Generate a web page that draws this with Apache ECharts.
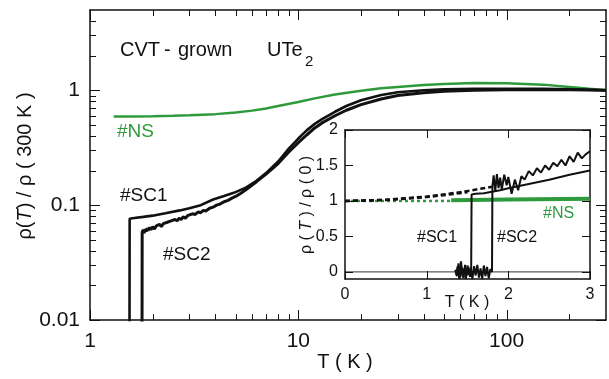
<!DOCTYPE html>
<html><head><meta charset="utf-8">
<script src="https://cdn.jsdelivr.net/npm/echarts@6/dist/echarts.min.js"></script>
<style>html,body{margin:0;padding:0;background:#fff}#c{width:609px;height:379px}</style>
</head><body><div id="c"></div>
<script>
const FONT = 'Liberation Sans, Arial, Helvetica, sans-serif';
const INK = '#111';
const GREEN = '#2e9a3c';

// ---------- main panel: T (K) vs rho(T)/rho(300 K) ----------
const mainNS = [[1.3,0.59],[1.6,0.592],[2,0.595],[2.5,0.6],[3,0.605],[4,0.62],[5,0.64],[6,0.665],[7,0.695],[8,0.73],[10,0.79],[12,0.85],[15,0.92],[20,0.99],[25,1.04],[30,1.07],[40,1.11],[50,1.135],[70,1.155],[100,1.15],[150,1.12],[200,1.07],[250,1.03],[300,1.0]];
const mainSC1 = [[1.545,0.001],[1.55,0.076],[1.6,0.077],[1.8,0.079],[2,0.081],[2.3,0.085],[2.7,0.09],[3,0.094],[3.4,0.1],[3.9,0.112],[4.4,0.12],[4.9,0.128],[5.6,0.142],[6.3,0.163],[7,0.19],[8,0.24],[9,0.31],[10,0.38],[11,0.45],[12,0.51],[13,0.56],[15,0.65],[17,0.73],[20,0.82],[25,0.91],[30,0.96],[40,1.0],[50,1.02],[70,1.03],[100,1.03],[150,1.03],[200,1.02],[300,1.0]];
const mainSC2 = [[1.775,0.001],[1.78,0.058],[1.8,0.061],[1.82,0.057],[1.84,0.062],[1.86,0.059],[1.88,0.063],[1.9,0.06],[1.93,0.064],[1.96,0.061],[2.0,0.065],[2.04,0.062],[2.08,0.066],[2.12,0.064],[2.16,0.068],[2.2,0.065],[2.25,0.069],[2.3,0.067],[2.35,0.071],[2.4,0.069],[2.45,0.073],[2.5,0.071],[2.56,0.075],[2.62,0.073],[2.68,0.077],[2.74,0.075],[2.8,0.079],[2.87,0.077],[2.94,0.081],[3.0,0.08],[3.1,0.084],[3.2,0.083],[3.3,0.087],[3.4,0.086],[3.5,0.09],[3.6,0.089],[3.75,0.094],[3.9,0.096],[4.05,0.1],[4.2,0.102],[4.4,0.107],[4.6,0.11],[4.8,0.115],[5.0,0.119],[5.3,0.127],[5.6,0.136],[6.3,0.16],[7,0.186],[8,0.23],[9,0.29],[10,0.35],[11,0.41],[12,0.47],[13,0.52],[15,0.6],[17,0.67],[20,0.75],[25,0.84],[30,0.9],[40,0.95],[50,0.98],[70,1.0],[100,1.01],[150,1.01],[200,1.01],[300,1.0]];
const mainXRange = [1, 300];
const mainYRange = [0.01, 5];
const mainXLabels = [1, 10, 100];
const mainYLabels = [0.01, 0.1, 1];
const mainXMinor = [2,3,4,5,6,7,8,9,20,30,40,50,60,70,80,90,200];
const mainYMinor = [0.02,0.03,0.04,0.05,0.06,0.07,0.08,0.09,0.2,0.3,0.4,0.5,0.6,0.7,0.8,0.9,2,3,4];

// ---------- inset: T (K) vs rho(T)/rho(0) ----------
const insetZero = [[0,0],[3,0]];
const insetNSDashed = [[0,1.0],[1.3,1.0]];
const insetSC1Dashed = [[0,1.0],[0.25,1.003],[0.5,1.014],[0.75,1.031],[1.0,1.055],[1.25,1.086],[1.5,1.124]];
const insetSC2Dashed = [[0,1.0],[0.5,1.016],[1.0,1.062],[1.25,1.097],[1.5,1.14],[1.8,1.2]];
const insetNS = [[1.3,1.01],[2,1.02],[3,1.03]];
const insetSC1 = [[1.35,0.03],[1.37,-0.06],[1.39,0.12],[1.41,-0.08],[1.43,0.06],[1.45,-0.09],[1.47,0.1],[1.49,-0.05],[1.51,0.07],[1.53,-0.07],[1.545,0.02],[1.55,1.09],[1.6,1.1],[1.7,1.11],[1.8,1.13],[1.9,1.15],[2.0,1.18],[2.25,1.24],[2.5,1.3],[2.75,1.37],[3.0,1.43]];
const insetSC2 = [[1.36,-0.04],[1.38,0.08],[1.4,-0.1],[1.42,0.15],[1.44,-0.06],[1.46,0.05],[1.48,-0.1],[1.5,0.09],[1.52,-0.04],[1.54,0.06],[1.56,-0.1],[1.58,0.08],[1.6,-0.05],[1.62,0.1],[1.64,-0.08],[1.66,0.05],[1.68,-0.1],[1.7,0.09],[1.72,-0.06],[1.74,0.07],[1.76,-0.09],[1.78,0.04],[1.8,0.0],[1.805,1.2],[1.82,1.36],[1.84,1.14],[1.86,1.38],[1.88,1.18],[1.9,1.33],[1.92,1.16],[1.95,1.37],[1.98,1.22],[2.0,1.34],[2.04,1.1],[2.08,1.3],[2.12,1.15],[2.16,1.35],[2.2,1.3],[2.25,1.42],[2.3,1.36],[2.35,1.46],[2.4,1.4],[2.45,1.5],[2.5,1.44],[2.55,1.54],[2.6,1.49],[2.65,1.58],[2.7,1.5],[2.75,1.63],[2.8,1.55],[2.85,1.68],[2.9,1.6],[2.95,1.66],[3.0,1.7]];
const insetXRange = [0, 3];
const insetYRange = [-0.1, 2];
const insetXTicks = [0, 1, 2, 3];
const insetYTicks = [0, 0.5, 1, 1.5, 2];
const insetYLabels = ['0', '0.5', '1', '1.5', '2'];

function matchLabel(list, v) {
  const hit = list.find(t => Math.abs(t - v) / t < 1e-6);
  return hit === undefined ? '' : String(hit);
}
function axLine() { return { show: true, onZero: false, lineStyle: { color: INK, width: 1.5 } }; }

function line(data, xi, yi, color, width, dash, z) {
  return { type: 'line', data, xAxisIndex: xi, yAxisIndex: yi, showSymbol: false, symbol: 'none',
    lineStyle: { color, width, type: dash || 'solid' }, z: z || 3, animation: false, clip: true };
}
function txt(id, text, x, y, size, color, align) {
  return { id, type: 'text', x, y, z: 100,
    style: { text, fill: color || INK, font: size + 'px ' + FONT, align: align || 'left', verticalAlign: 'middle' } };
}

const chart = echarts.init(document.getElementById('c'), null, { renderer: 'canvas' });
chart.setOption({
  backgroundColor: '#fff',
  animation: false,
  textStyle: { fontFamily: FONT },
  grid: [
    { left: 90, top: 10, width: 518, height: 310 },
    { left: 345, top: 130, width: 245, height: 149, show: true, backgroundColor: '#fff', borderWidth: 0, z: 10 }
  ],
  xAxis: [
    { type: 'log', gridIndex: 0, min: mainXRange[0], max: mainXRange[1],
      axisLine: axLine(), axisTick: { show: false }, splitLine: { show: false },
      axisLabel: { color: INK, fontSize: 21, margin: 11, fontFamily: FONT, formatter: v => matchLabel(mainXLabels, v) } },
    { type: 'log', gridIndex: 0, position: 'top', min: mainXRange[0], max: mainXRange[1],
      axisLine: axLine(), axisTick: { show: false }, splitLine: { show: false }, axisLabel: { show: false } },
    { type: 'value', gridIndex: 1, min: insetXRange[0], max: insetXRange[1], interval: 1, z: 11,
      axisLine: axLine(), axisTick: { show: false }, splitLine: { show: false },
      axisLabel: { color: INK, fontSize: 16, margin: 8, fontFamily: FONT } },
    { type: 'value', gridIndex: 1, position: 'top', min: insetXRange[0], max: insetXRange[1], interval: 1, z: 11,
      axisLine: axLine(), axisTick: { show: false }, splitLine: { show: false }, axisLabel: { show: false } }
  ],
  yAxis: [
    { type: 'log', gridIndex: 0, min: mainYRange[0], max: mainYRange[1],
      axisLine: axLine(), axisTick: { show: false }, splitLine: { show: false },
      axisLabel: { color: INK, fontSize: 21, margin: 10, fontFamily: FONT, formatter: v => matchLabel(mainYLabels, v) } },
    { type: 'log', gridIndex: 0, position: 'right', min: mainYRange[0], max: mainYRange[1],
      axisLine: axLine(), axisTick: { show: false }, splitLine: { show: false }, axisLabel: { show: false } },
    { type: 'value', gridIndex: 1, min: insetYRange[0], max: insetYRange[1], splitNumber: 5, z: 11,
      axisLine: axLine(), axisTick: { show: false }, splitLine: { show: false },
      axisLabel: { color: INK, fontSize: 16, margin: 7, fontFamily: FONT,
        formatter: v => insetYLabels.find(s => Math.abs(parseFloat(s) - v) < 1e-6) || '' } },
    { type: 'value', gridIndex: 1, position: 'right', min: insetYRange[0], max: insetYRange[1], splitNumber: 5, z: 11,
      axisLine: axLine(), axisTick: { show: false }, splitLine: { show: false }, axisLabel: { show: false } }
  ],
  series: [
    line(mainNS, 0, 0, GREEN, 2.5),
    line(mainSC1, 0, 0, INK, 2.6),
    line(mainSC2, 0, 0, INK, 3),
    line(insetZero, 2, 2, '#333', 1, null, 12),
    line(insetNSDashed, 2, 2, GREEN, 2.5, [3, 3], 12),
    line(insetNS, 2, 2, GREEN, 4, null, 12),
    line(insetSC1Dashed, 2, 2, INK, 2.5, [5, 3], 13),
    line(insetSC2Dashed, 2, 2, INK, 2.5, [5, 3], 13),
    line(insetSC1, 2, 2, INK, 2, null, 13),
    line(insetSC2, 2, 2, INK, 2, null, 13)
  ]
});

const gfx = [];

// Tick marks first, placed through the axes' own scales
let n = 0;
function seg(x1, y1, x2, y2, z) {
  gfx.push({ id: 'tk' + (n++), type: 'line', silent: true, z: z || 50,
    shape: { x1, y1, x2, y2 }, style: { stroke: INK, lineWidth: 1 } });
}
const mainF = { xAxisIndex: 0, yAxisIndex: 0 };
function mainXTick(t, len) {
  const a = chart.convertToPixel(mainF, [t, mainYRange[0]]);
  const b = chart.convertToPixel(mainF, [t, mainYRange[1]]);
  const x = Math.round(a[0]) + 0.5;
  seg(x, a[1], x, a[1] - len); seg(x, b[1], x, b[1] + len);
}
function mainYTick(v, len) {
  const a = chart.convertToPixel(mainF, [mainXRange[0], v]);
  const b = chart.convertToPixel(mainF, [mainXRange[1], v]);
  const y = Math.round(a[1]) + 0.5;
  seg(a[0], y, a[0] + len, y); seg(b[0], y, b[0] - len, y);
}
mainXLabels.forEach(t => mainXTick(t, 10));
mainXMinor.forEach(t => mainXTick(t, 6));
mainYLabels.forEach(v => mainYTick(v, 10));
mainYMinor.forEach(v => mainYTick(v, 6));

const insetF = { xAxisIndex: 2, yAxisIndex: 2 };
insetXTicks.forEach(t => {
  const a = chart.convertToPixel(insetF, [t, insetYRange[0]]);
  const b = chart.convertToPixel(insetF, [t, insetYRange[1]]);
  const x = Math.round(a[0]) + 0.5;
  seg(x, a[1], x, a[1] - 8, 60); seg(x, b[1], x, b[1] + 8, 60);
});
insetYTicks.forEach(v => {
  const a = chart.convertToPixel(insetF, [insetXRange[0], v]);
  const b = chart.convertToPixel(insetF, [insetXRange[1], v]);
  const y = Math.round(a[1]) + 0.5;
  seg(a[0], y, a[0] + 8, y, 60); seg(b[0], y, b[0] - 8, y, 60);
});

// Texts afterwards; rotated rich labels last
gfx.push(
  txt('t1', 'CVT', 120, 50, 20),
  txt('t2', '-', 164, 50, 20),
  txt('t3', 'grown', 178, 50, 20),
  txt('t4', 'UTe', 267, 50, 20),
  txt('t5', '2', 305, 62, 15),
  txt('t6', '#NS', 117, 132, 19, GREEN),
  txt('t7', '#SC1', 120, 196, 19),
  txt('t8', '#SC2', 163, 255, 19),
  txt('t9', 'T ( K )', 345, 362, 20, INK, 'center'),
  txt('t11', '#SC1', 417, 238, 16),
  txt('t12', '#SC2', 497, 238, 16),
  txt('t13', '#NS', 543, 214, 16, GREEN),
  txt('t14', 'T ( K )', 467, 303, 16, INK, 'center'),
  { id: 't10', type: 'text', x: 25, y: 166, rotation: Math.PI / 2, z: 100,
    style: { text: '{a|ρ(}{i|T}{a|) / ρ ( 300 K )}', align: 'center', verticalAlign: 'middle', fill: INK,
      rich: { a: { font: '20px ' + FONT, fill: INK }, i: { font: 'italic 20px ' + FONT, fill: INK } } } },
  { id: 't15', type: 'text', x: 307, y: 205, rotation: Math.PI / 2, z: 100,
    style: { text: '{a|ρ ( }{i|T}{a| ) / ρ ( 0 )}', align: 'center', verticalAlign: 'middle', fill: INK,
      rich: { a: { font: '16px ' + FONT, fill: INK }, i: { font: 'italic 16px ' + FONT, fill: INK } } } }
);
chart.setOption({ graphic: gfx });
</script>
</body></html>
